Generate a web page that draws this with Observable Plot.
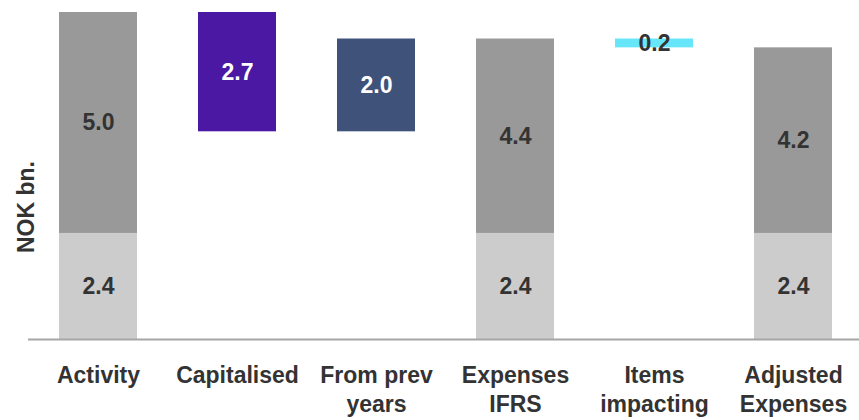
<!DOCTYPE html>
<html>
<head>
<meta charset="utf-8">
<script src="https://cdn.jsdelivr.net/npm/d3@7"></script>
<script src="https://cdn.jsdelivr.net/npm/@observablehq/plot@0.6"></script>
<style>
  html, body { margin: 0; padding: 0; background: #fff; }
  #chart { width: 859px; height: 420px; }
</style>
</head>
<body>
<div id="chart"></div>
<script>
const categories = ["Activity", "Capitalised", "From prev years", "Expenses IFRS", "Items impacting", "Adjusted Expenses"];
const tickLabels = ["Activity", "Capitalised", "From prev\nyears", "Expenses\nIFRS", "Items\nimpacting", "Adjusted\nExpenses"];
const baseValues = [2.4, null, null, 2.4, null, 2.4];
const upperValues = [5.0, null, null, 4.4, null, 4.2];
const deltaValues = [null, -2.7, 2.0, null, -0.2, null];
const deltaKinds = [null, "capitalised", "prev", null, "items", null];

const colors = {
  base: "#cccccc",
  upper: "#999999",
  capitalised: "#4a18a2",
  prev: "#3f527a",
  items: "#66e6f8"
};
const textColors = {
  base: "#333333",
  upper: "#333333",
  capitalised: "#ffffff",
  prev: "#ffffff",
  items: "#333333"
};

// Build waterfall segments
const segments = [];
let level = 0;
categories.forEach((cat, i) => {
  if (baseValues[i] != null) {
    const b = baseValues[i], u = upperValues[i];
    segments.push({cat, y1: 0, y2: b, kind: "base", value: b});
    segments.push({cat, y1: b, y2: b + u, kind: "upper", value: u});
    level = b + u;
  } else {
    const start = level;
    let end = start + deltaValues[i];
    const j = i + 1;
    if (j < categories.length && baseValues[j] != null) end = baseValues[j] + upperValues[j];
    segments.push({cat, y1: Math.min(start, end), y2: Math.max(start, end), kind: deltaKinds[i], value: Math.abs(deltaValues[i])});
    level = end;
  }
});
const yMax = d3.max(segments, d => d.y2);

const font = "'Liberation Sans', Arial, Helvetica, sans-serif";

const chart = Plot.plot({
  width: 859,
  height: 420,
  marginTop: 12,
  marginBottom: 81,
  marginLeft: 28,
  marginRight: 0,
  style: {fontFamily: font, background: "#fff"},
  x: {domain: categories, range: [27.3, 863.7], paddingInner: 0.44, paddingOuter: 0.22, axis: null},
  y: {domain: [0, yMax], axis: null},
  color: {type: "identity"},
  marks: [
    Plot.barY(segments, {x: "cat", y1: "y1", y2: "y2", fill: d => colors[d.kind]}),
    Plot.ruleY([0], {stroke: "#a6a6a6", strokeWidth: 2}),
    Plot.text(segments, {
      x: "cat",
      y: d => (d.y1 + d.y2) / 2,
      text: d => d.value.toFixed(1),
      fill: d => textColors[d.kind],
      fontSize: 23,
      fontWeight: "bold"
    }),
    Plot.axisX({
      domain: categories,
      tickSize: 0,
      tickPadding: 23,
      tickFormat: d => tickLabels[categories.indexOf(d)],
      fontSize: 23,
      fontWeight: "bold",
      fill: "#333333",
      lineHeight: 1.27,
      label: null
    }),
    Plot.text(["NOK bn."], {
      frameAnchor: "left",
      textAnchor: "middle",
      dx: -2,
      dy: 31,
      rotate: -90,
      text: d => d,
      fontSize: 23,
      fontWeight: "bold",
      fill: "#333333"
    })
  ]
});
document.getElementById("chart").appendChild(chart);
</script>
</body>
</html>
